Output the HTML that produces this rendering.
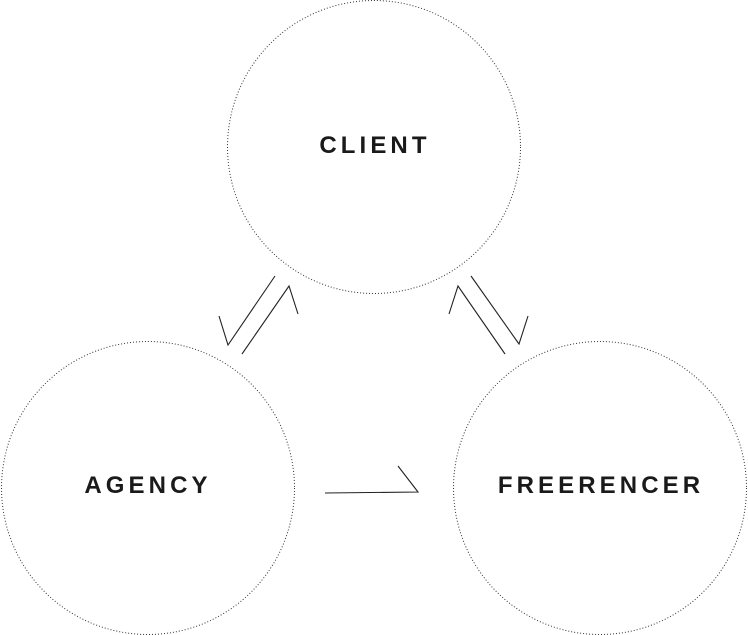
<!DOCTYPE html>
<html><head><style>
html,body{margin:0;padding:0;background:#fff;}
svg{display:block}
text{font-family:"Liberation Sans",sans-serif;font-weight:bold;font-size:24px;letter-spacing:4.1px;fill:#1a1a1a}
</style></head><body>
<svg width="748" height="635" viewBox="0 0 748 635">
<g fill="none" stroke="#333" stroke-width="1" stroke-dasharray="1 2">
<circle cx="374" cy="147" r="146.5"/>
<circle cx="148" cy="488" r="146.5"/>
<circle cx="600" cy="488" r="146.5"/>
</g>
<g fill="none" stroke="#222" stroke-width="1.1">
<polyline points="275,276 228,345 219,316"/>
<polyline points="242,354 289,286 298,314"/>
<polyline points="471,276 519,344 528,316"/>
<polyline points="505,354 458,286 449,314"/>
<polyline points="325,493 418,492 398,466"/>
</g>
<text x="375" y="153" text-anchor="middle">CLIENT</text>
<text x="148" y="493" text-anchor="middle">AGENCY</text>
<text x="601" y="493" text-anchor="middle">FREERENCER</text>
</svg>
</body></html>
